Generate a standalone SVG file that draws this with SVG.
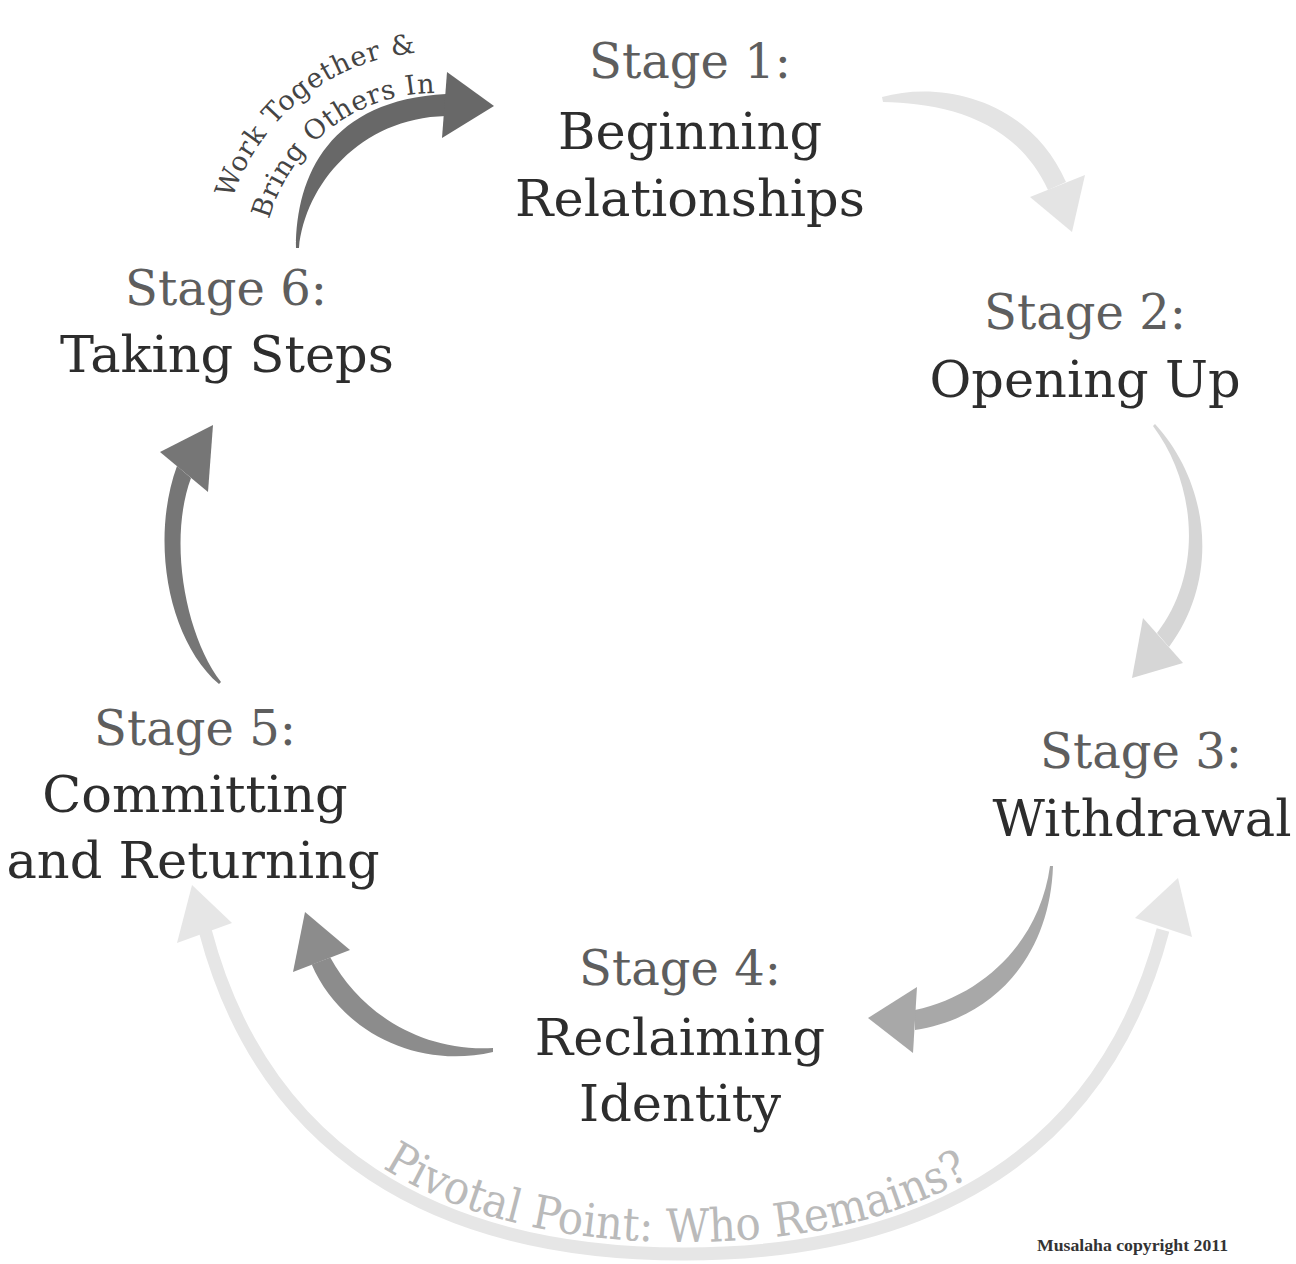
<svg xmlns="http://www.w3.org/2000/svg" width="1296" height="1264" viewBox="0 0 1296 1264">
  <style>
    .lbl { font-family: "DejaVu Serif", serif; text-anchor: middle; }
    .stage { font-size: 48px; fill: #5e5e5e; }
    .title { font-size: 51px; fill: #2d2d2d; }
    .curve-lbl { font-family: "DejaVu Serif", serif; font-size: 27px; fill: #444444; }
    .pivot-lbl { font-family: "DejaVu Serif", serif; font-size: 46px; fill: #bababa; }
    .credit { font-family: "Liberation Serif", serif; font-size: 16px; font-weight: bold; fill: #333333; }
  </style>
  <defs>
    <!-- baselines for the curved captions -->
    <path id="arcOuter" d="M225.2,228 A213,213 0 0 1 472,55.2"/>
    <path id="arcInner" d="M265.6,235.1 A172,172 0 0 1 464.9,95.6"/>
    <path id="pivotBase" d="M214,927 C271,1141 438,1242 684,1242 C930,1242 1097,1141 1154,927"/>
  </defs>

  <rect width="1296" height="1264" fill="#ffffff"/>

  <g id="connectors">
    <!-- Stage 6 to Stage 1 -->
    <g id="arrow-6-1" fill="#686868">
      <path d="M296,248 C296,175 330,100 446,94 L446,116 C360,118 305,185 299,248 Z"/>
      <polygon points="494,106 447,72 442,138"/>
    </g>
    <!-- Stage 1 to Stage 2 -->
    <g id="arrow-1-2" fill="#e4e4e4">
      <path d="M882,97 C942,80 1030,100 1066,182 L1048,190 C1015,118 942,103 883,102 Z"/>
      <polygon points="1072,232 1030,197 1085,175"/>
    </g>
    <!-- Stage 2 to Stage 3 -->
    <g id="arrow-2-3" fill="#d6d6d6">
      <path d="M1155,424 C1205,478 1224,572 1169,647 L1157,633 C1205,570 1195,482 1153,426 Z"/>
      <polygon points="1132,678 1143,618 1183,663"/>
    </g>
    <!-- Stage 3 to Stage 4 -->
    <g id="arrow-3-4" fill="#a8a8a8">
      <path d="M1053,866 C1050,955 995,1018 915,1030 L915,1010 C985,995 1040,940 1050,866 Z"/>
      <polygon points="868,1018 917,987 913,1053"/>
    </g>
    <!-- Stage 4 to Stage 5 -->
    <g id="arrow-4-5" fill="#8c8c8c">
      <path d="M493,1052 C415,1070 340,1030 311.7,964.6 L330.3,957.4 C360,1012 420,1052 493,1048 Z"/>
      <polygon points="305,912 293,972 350,950"/>
    </g>
    <!-- Stage 5 to Stage 6 -->
    <g id="arrow-5-6" fill="#767676">
      <path d="M219,684 C168,640 150,540 177,466 L191,478 C168,540 185,635 221,682 Z"/>
      <polygon points="213,425 160,452 208,492"/>
    </g>
    <!-- pivotal point loop, Stage 4 back to Stages 3 and 5 -->
    <g id="arrow-pivot">
      <path d="M205,930 C263,1150 434,1254 684,1254 C934,1254 1105,1150 1163,930" fill="none" stroke="#e6e6e6" stroke-width="13"/>
      <polygon points="192,885 177,943 232,923" fill="#e6e6e6"/>
      <polygon points="1178,878 1135,918 1192,937" fill="#e6e6e6"/>
    </g>
  </g>

  <g id="stage1">
    <text class="lbl stage" x="690" y="78">Stage 1:</text>
    <text class="lbl title" x="690" y="149">Beginning</text>
    <text class="lbl title" x="690" y="216">Relationships</text>
  </g>
  <g id="stage2">
    <text class="lbl stage" x="1085" y="329">Stage 2:</text>
    <text class="lbl title" x="1085" y="397">Opening Up</text>
  </g>
  <g id="stage3">
    <text class="lbl stage" x="1141" y="768">Stage 3:</text>
    <text class="lbl title" x="1142" y="836">Withdrawal</text>
  </g>
  <g id="stage4">
    <text class="lbl stage" x="680" y="985">Stage 4:</text>
    <text class="lbl title" x="680" y="1055">Reclaiming</text>
    <text class="lbl title" x="680" y="1121">Identity</text>
  </g>
  <g id="stage5">
    <text class="lbl stage" x="195" y="745">Stage 5:</text>
    <text class="lbl title" x="195" y="812">Committing</text>
    <text class="lbl title" x="193" y="878">and Returning</text>
  </g>
  <g id="stage6">
    <text class="lbl stage" x="226" y="305">Stage 6:</text>
    <text class="lbl title" x="227" y="372">Taking Steps</text>
  </g>

  <g id="label-work-together">
    <text class="curve-lbl"><textPath href="#arcOuter" startOffset="30" textLength="248" lengthAdjust="spacing">Work Together &amp;</textPath></text>
    <text class="curve-lbl"><textPath href="#arcInner" startOffset="16" textLength="224" lengthAdjust="spacing">Bring Others In</textPath></text>
  </g>

  <g id="label-pivot">
    <text class="pivot-lbl" text-anchor="middle"><textPath href="#pivotBase" startOffset="49.3%" textLength="612" lengthAdjust="spacingAndGlyphs">Pivotal Point: Who Remains?</textPath></text>
  </g>

  <g id="credit">
    <text class="credit" x="1037" y="1251" textLength="191" lengthAdjust="spacingAndGlyphs">Musalaha copyright 2011</text>
  </g>
</svg>
